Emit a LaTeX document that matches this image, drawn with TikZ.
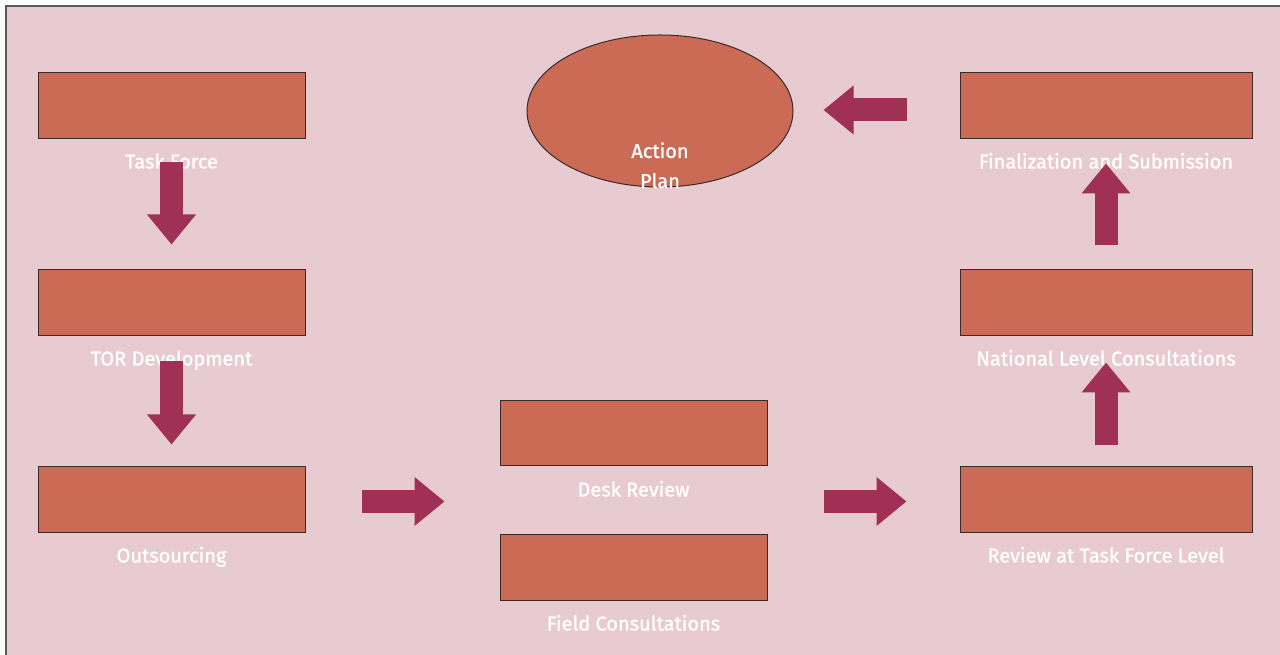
\documentclass[tikz,border=0pt]{standalone}
\usepackage{fontspec}
\setmainfont{Fira Sans}
\newfontfamily\labelfont{Fira Sans}[FakeBold=1.2]
\usetikzlibrary{arrows.meta,calc,shapes.geometric}
\definecolor{bgpink}{HTML}{E8CBD1}
\definecolor{boxfill}{HTML}{CB6B55}
\definecolor{arrowcol}{HTML}{A03056}
\definecolor{edgecol}{HTML}{3A2A2A}
\tikzset{
  stagebox/.style={draw=edgecol, line width=1pt, fill=boxfill, minimum height=66pt, inner sep=0pt},
  leftbox/.style={stagebox, minimum width=267pt},
  rightbox/.style={stagebox, minimum width=292pt},
  stagelabel/.style={text=white, font=\labelfont\fontsize{20}{23}\selectfont, anchor=base, inner sep=0pt},
  barrow/.style={draw=arrowcol, line width=23pt, -{Triangle[length=30pt,width=47pt]}, arrowcol}
}
\begin{document}
\begin{tikzpicture}[x=1pt,y=1pt]
\useasboundingbox (0,0) rectangle (1280,655);
\fill[white] (0,0) rectangle (1280,655);
\fill[bgpink] (6,0) rectangle (1280,649);
\draw[gray!70!black, line width=1.5pt] (6,0) -- (6,649) -- (1280,649);

% boxes
\node[leftbox] (tf) at (171.5,549) {};
\node[leftbox] (tor) at (171.5,352) {};
\node[leftbox] (out) at (171.5,155) {};
\node[leftbox, minimum height=65pt] (desk) at (633.5,221.5) {};
\node[leftbox] (field) at (633.5,87) {};
\node[rightbox] (fin) at (1106,549) {};
\node[rightbox] (nat) at (1106,352) {};
\node[rightbox] (rev) at (1106,155) {};
\node[ellipse, draw=edgecol, line width=1pt, fill=boxfill, minimum width=266pt, minimum height=152pt, inner sep=0pt] (ap) at (660,544) {};

% labels
\node[stagelabel] (tfl) at ([yshift=-29pt]tf.south) {Task Force};
\node[stagelabel] (torl) at ([yshift=-29pt]tor.south) {TOR Development};
\node[stagelabel] (outl) at ([yshift=-29pt]out.south) {Outsourcing};
\node[stagelabel] (deskl) at ([yshift=-30pt]desk.south) {Desk Review};
\node[stagelabel] (fieldl) at ([yshift=-29pt]field.south) {Field Consultations};
\node[stagelabel] (finl) at ([yshift=-29pt]fin.south) {Finalization and Submission};
\node[stagelabel] (natl) at ([yshift=-29pt]nat.south) {National Level Consultations};
\node[stagelabel] (revl) at ([yshift=-29pt]rev.south) {Review at Task Force Level};
\node[stagelabel] (apl1) at (660,497) {Action};
\node[stagelabel] (apl2) at (660,467) {Plan};

% arrows
\draw[barrow] ([yshift=-23pt]tf.south) -- ([yshift=25pt]tor.north);
\draw[barrow] ([yshift=-25pt]tor.south) -- ([yshift=22pt]out.north);
\draw[barrow] ($(out.east)+(56,-1.5)$) -- ($(desk.west|-out.east)+(-55,-1.5)$);
\draw[barrow] ($(desk.east|-out.east)+(56,-1.5)$) -- ($(rev.west)+(-53,-1.5)$);
\draw[barrow] ([yshift=21pt]rev.north) -- ([yshift=-26pt]nat.south);
\draw[barrow] ([yshift=24pt]nat.north) -- ([yshift=-24pt]fin.south);
\draw[barrow] ($(fin.west)+(-53,-4)$) -- ($(ap.east|-fin.west)+(30,-4)$);
\end{tikzpicture}
\end{document}
